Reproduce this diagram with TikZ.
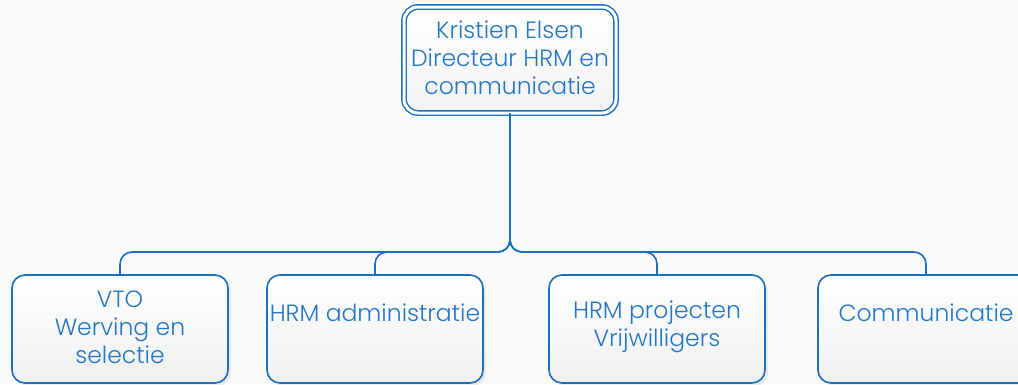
\documentclass[tikz,border=0pt]{standalone}
\usepackage{fontspec}
\setmainfont{Poppins}[UprightFont={* Light}]
\usetikzlibrary{shadows,calc}
\definecolor{bl}{HTML}{1C6EBF}
\definecolor{tx}{HTML}{2377C6}
\definecolor{bg}{HTML}{FAFAFA}
\begin{document}
\begin{tikzpicture}[x=1pt,y=-1pt,
  box/.style={draw=bl, line width=1.6pt, rounded corners=13pt, top color=white, bottom color=gray!12,
    minimum width=216pt, minimum height=108pt, inner sep=0pt,
    drop shadow={shadow xshift=3pt, shadow yshift=-3pt, fill=gray!30, opacity=0.5}},
  topbox/.style={draw=bl, line width=1.4pt, double=white, double distance=3pt, rounded corners=14pt,
    top color=white, bottom color=gray!10, minimum width=212pt, minimum height=106pt, inner sep=0pt,
    drop shadow={shadow xshift=3pt, shadow yshift=-3pt, fill=gray!30, opacity=0.5}},
  lbl/.style={text=tx, font=\fontsize{23.5}{28}\selectfont, align=center},
  conn/.style={draw=bl, line width=1.6pt, rounded corners=12pt}]
\fill[bg] (0,0) rectangle (1018,384);
\useasboundingbox (0,0) rectangle (1018,384);
\node[topbox] (top) at (510,60) {};
\node[lbl] (toplbl) at (510,58) {Kristien Elsen\\Directeur HRM en\\communicatie};
\node[box] (c1) at (120,329) {};
\node[box] (c2) at (375,329) {};
\node[box] (c3) at (657,329) {};
\node[box] (c4) at (926,329) {};
\node[lbl] (l1) at (120,327) {VTO\\Werving en\\selectie};
\node[lbl] (l2) at (375,313) {HRM administratie};
\node[lbl] (l3) at (657,327) {HRM projecten\\Vrijwilligers};
\node[lbl] (l4) at (926,313) {Communicatie};
\coordinate (bus) at (0,252);
\draw[conn] (top.south) |- (c1.north |- bus) -- (c1.north);
\draw[conn] (top.south) |- (c2.north |- bus) -- (c2.north);
\draw[conn] (top.south) |- (c3.north |- bus) -- (c3.north);
\draw[conn] (top.south) |- (c4.north |- bus) -- (c4.north);
\end{tikzpicture}
\end{document}
